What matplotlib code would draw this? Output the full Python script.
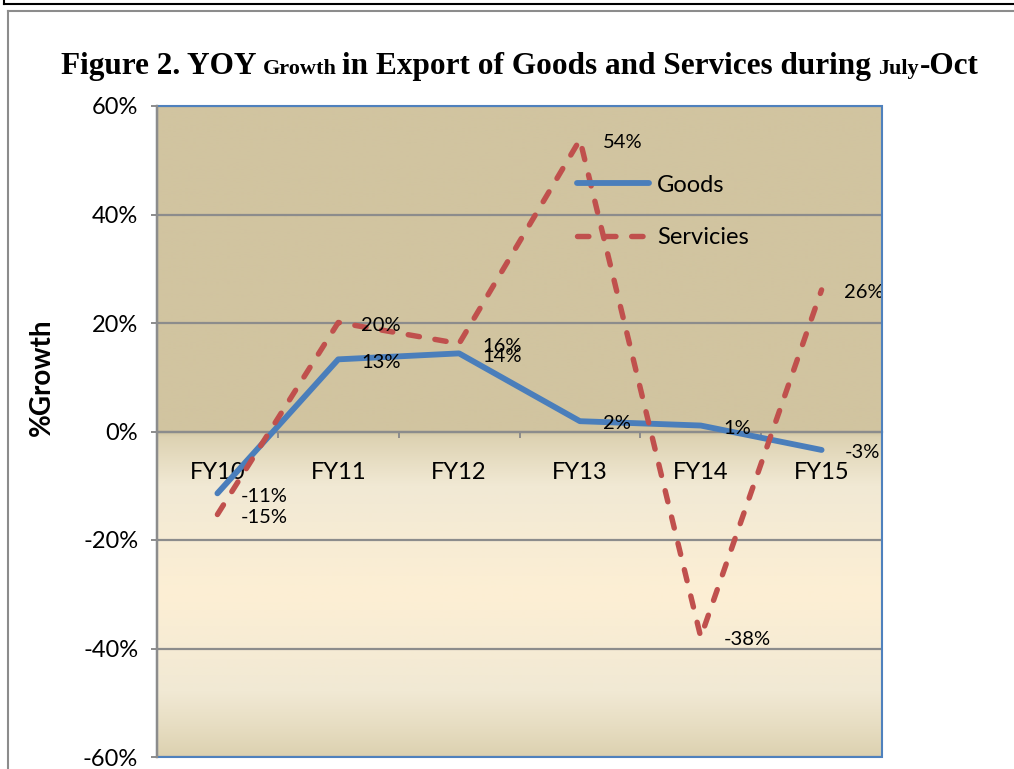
import numpy as np
import matplotlib
matplotlib.use("Agg")
import matplotlib.pyplot as plt
import matplotlib.colors as colors
from matplotlib.lines import Line2D
from matplotlib.patches import Rectangle

# data
years = ["FY10", "FY11", "FY12", "FY13", "FY14", "FY15"]
goods = [-11.4, 13.3, 14.4, 1.9, 1.1, -3.4]
services = [-15.3, 20.1, 16.2, 53.8, -37.9, 26.1]
yticks = [-60, -40, -20, 0, 20, 40, 60]

W, H = 1014, 769
fig = plt.figure(figsize=(W / 100, H / 100), dpi=100)
fig.patch.set_facecolor("white")

# plot area in pixels: left 157, right 882, top 106, bottom 757
ax = fig.add_axes([157 / W, 1 - 757 / H, 725 / W, 651 / H])
ax.set_xlim(0, 6)
ax.set_ylim(-60, 60)

# background: flat tan above zero, gradient below
stops_y = [60, 0, -1, -10, -30, -48, -55, -60]
stops_c = ["#D1C4A0", "#D1C4A0", "#DDD2B2", "#F1E9D4", "#FDEFD4", "#F1E9D4", "#E6DCC0", "#DCD1B0"]
yy = np.linspace(60, -60, 600)
rgb = np.array([colors.to_rgb(c) for c in stops_c])
grad = np.stack([np.interp(-yy, [-s for s in stops_y], rgb[:, k]) for k in range(3)], axis=-1)
ax.imshow(grad[:, None, :], extent=[0, 6, -60, 60], aspect="auto", zorder=0, interpolation="bilinear")
ax.set_facecolor("#D1C4A0")

for y in yticks:
    ax.axhline(y, color="#8C8C8C", lw=1.6, zorder=1)

x = np.arange(len(years)) + 0.5
ax.plot(x, goods, color="#4A7EBB", lw=4.2, solid_capstyle="round", zorder=3, label="Goods")
ax.plot(x, services, color="#C0504D", lw=3.9, dashes=(2.1, 2.9), dash_capstyle="round",
        zorder=4, label="Servicies")

def pct(v):
    return f"{round(v):d}%"

for xi, v in zip(x, goods):
    ax.annotate(pct(v), (xi, v), xytext=(16.5, -2), textcoords="offset points",
                ha="left", va="center", fontsize=14.5, family="Lato", zorder=5)
for xi, v in zip(x, services):
    ax.annotate(pct(v), (xi, v), xytext=(16.5, -2), textcoords="offset points",
                ha="left", va="center", fontsize=14.5, family="Lato", zorder=5)

# axes styling
for s in ["top", "right"]:
    ax.spines[s].set_visible(False)
ax.spines["left"].set_color("#8C8C8C")
ax.spines["left"].set_linewidth(1.6)
ax.spines["bottom"].set_position(("data", 0))
ax.spines["bottom"].set_color("#8C8C8C")
ax.spines["bottom"].set_linewidth(1.6)
ax.add_patch(Rectangle((0, 0), 1, 1, transform=ax.transAxes, fill=False,
                       edgecolor="#4F81BD", lw=1.5, zorder=6, clip_on=False))
ax.plot([0, 0], [0, 1], transform=ax.transAxes, color="#8C8C8C", lw=1.6, zorder=7, clip_on=False)

ax.set_yticks(yticks)
ax.set_yticklabels([f"{v}%" for v in yticks], family="Lato", fontsize=17)
ax.tick_params(axis="y", length=4.5, width=1.4, color="#8C8C8C", pad=9)

ax.set_xticks([1, 2, 3, 4, 5])
ax.set_xticklabels([])
ax.set_xticks(x, minor=True)
ax.set_xticklabels(years, minor=True, family="Lato", fontsize=17)
ax.tick_params(axis="x", which="major", direction="out", length=4.5, width=1.4, color="#8C8C8C")
ax.tick_params(axis="x", which="minor", length=0, pad=22)

leg = ax.legend(loc="center left", bbox_to_anchor=(565 / W, 1 - 211.5 / H),
                bbox_transform=fig.transFigure, frameon=False, borderpad=0,
                handlelength=3.05, handletextpad=0.35, labelspacing=1.35,
                prop={"family": "Lato", "size": 17})

fig.text(42 / W, 1 - 377 / H, "%Growth", rotation=90, ha="center", va="center",
         family="Lato", fontweight="bold", fontsize=20)

# title with mixed sizes
pieces = [("Figure 2. YOY", 22.5), ("Growth", 16), ("in Export of Goods and Services during", 22.5),
          ("July", 16), ("-Oct", 22.5)]
gaps = [6, 6, 7, 1, 0]
fig.canvas.draw()
renderer = fig.canvas.get_renderer()
texts = []
widths = []
for txt, size in pieces:
    t = fig.text(0, 1 - 74 / H, txt, family="Liberation Serif", fontweight="bold",
                 fontsize=size, va="baseline", ha="left")
    texts.append(t)
    widths.append(t.get_window_extent(renderer).width)
total = sum(widths) + sum(gaps)
cur = 520 - total / 2
for t, w, g in zip(texts, widths, gaps):
    t.set_x(cur / W)
    cur += w + g

# frame lines
fig.add_artist(Line2D([4 / W, 1], [1 - 4 / H, 1 - 4 / H], color="black", lw=1.5))
fig.add_artist(Line2D([4 / W, 4 / W], [1, 1 - 4 / H], color="black", lw=1.5))
fig.add_artist(Line2D([8 / W, 1], [1 - 11 / H, 1 - 11 / H], color="#8C8C8C", lw=1.5))
fig.add_artist(Line2D([8 / W, 8 / W], [1 - 11 / H, 0], color="#8C8C8C", lw=1.5))

fig.savefig("out.png", dpi=100)
